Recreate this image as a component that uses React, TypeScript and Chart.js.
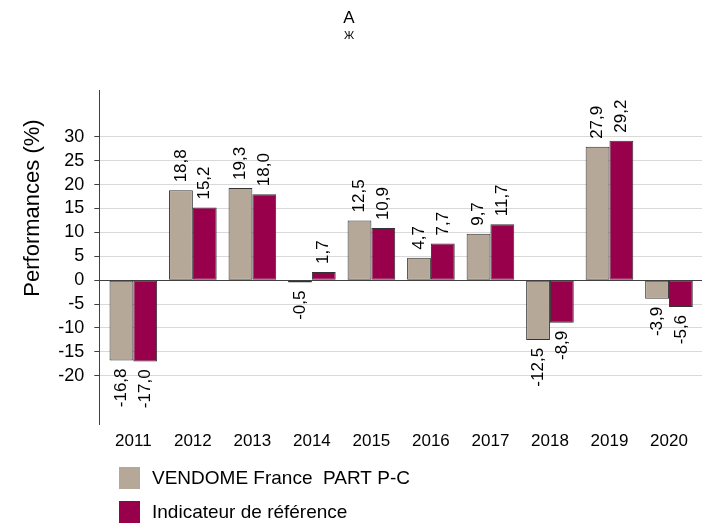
import React, { useEffect, useRef } from "react";
import { Chart, registerables } from "chart.js";

Chart.register(...registerables);

const years = ["2011", "2012", "2013", "2014", "2015", "2016", "2017", "2018", "2019", "2020"];
const fundValues = [-16.8, 18.8, 19.3, -0.5, 12.5, 4.7, 9.7, -12.5, 27.9, -3.9];
const benchValues = [-17.0, 15.2, 18.0, 1.7, 10.9, 7.7, 11.7, -8.9, 29.2, -5.6];
const yTickValues = [-20, -15, -10, -5, 0, 5, 10, 15, 20, 25, 30];
const seriesNames = ["VENDOME France  PART P-C", "Indicateur de référence"];
const seriesColors = ["#b5a899", "#99004c"];
const chartTitle = "A";
const yAxisTitle = "Performances (%)";

const FONT = "'Liberation Sans', Arial, sans-serif";

const decorPlugin = {
  id: "decor",
  afterDatasetsDraw(chart: any) {
    const ctx = chart.ctx;
    ctx.save();
    ctx.fillStyle = "#000";
    // data labels
    ctx.font = `17px ${FONT}`;
    chart.data.datasets.forEach((ds: any, di: number) => {
      const meta = chart.getDatasetMeta(di);
      meta.data.forEach((bar: any, i: number) => {
        const v = ds.data[i].y;
        const txt = v.toFixed(1).replace(".", ",");
        ctx.save();
        ctx.translate(bar.x, v >= 0 ? bar.y - 8 : bar.y + 8);
        ctx.rotate(-Math.PI / 2);
        ctx.textBaseline = "middle";
        ctx.textAlign = v >= 0 ? "left" : "right";
        ctx.fillText(txt, 0, 0);
        ctx.restore();
      });
    });
    // title
    ctx.textAlign = "center";
    ctx.textBaseline = "middle";
    ctx.font = `17px ${FONT}`;
    ctx.fillText(chartTitle, 349, 18);
    ctx.font = `11px ${FONT}`;
    ctx.fillText("Ж", 349, 36);
    // y axis title
    ctx.save();
    ctx.translate(33, 208);
    ctx.rotate(-Math.PI / 2);
    ctx.font = `22px ${FONT}`;
    ctx.textAlign = "center";
    ctx.textBaseline = "middle";
    ctx.fillText(yAxisTitle, 0, 0);
    ctx.restore();
    // legend
    ctx.font = `19px ${FONT}`;
    ctx.textAlign = "left";
    ctx.textBaseline = "middle";
    seriesNames.forEach((name, i) => {
      const y = 467 + i * 34;
      ctx.fillStyle = seriesColors[i];
      ctx.fillRect(119, y, 21, 22);
      ctx.fillStyle = "#000";
      ctx.fillText(name, 152, y + 12);
    });
    ctx.restore();
  },
};

export default function App() {
  const ref = useRef<HTMLCanvasElement | null>(null);
  useEffect(() => {
    if (!ref.current) return;
    const mkDs = (name: string, vals: number[], color: string) => ({
      label: name,
      data: vals.map((v, i) => ({ x: i, y: v })),
      backgroundColor: color,
      borderColor: "#333333",
      borderWidth: 1,
      borderSkipped: false,
      categoryPercentage: 0.8,
      barPercentage: 1,
    });
    const chart = new Chart(ref.current, {
      type: "bar",
      data: {
        datasets: [
          mkDs(seriesNames[0], fundValues, seriesColors[0]),
          mkDs(seriesNames[1], benchValues, seriesColors[1]),
        ],
      },
      options: {
        animation: false,
        responsive: false,
        layout: { padding: { top: 90, right: 0, left: 0, bottom: 0 } },
        plugins: { legend: { display: false }, tooltip: { enabled: false } },
        scales: {
          x: {
            type: "linear",
            offset: false,
            min: -0.572,
            max: 9.555,
            grid: { display: false, drawTicks: false, offset: false },
            border: { display: false },
            afterBuildTicks: (s: any) => {
              s.ticks = years.map((_, i) => ({ value: i }));
            },
            afterFit: (s: any) => {
              s.height = 524 - 424;
            },
            ticks: {
              autoSkip: false,
              maxRotation: 0,
              padding: 7,
              color: "#000",
              font: { family: FONT, size: 17 },
              callback: (v: any) => years[v] ?? "",
            },
          },
          y: {
            min: -30.1,
            max: 39.8,
            afterBuildTicks: (s: any) => {
              s.ticks = yTickValues.map((v) => ({ value: v }));
            },
            afterFit: (s: any) => {
              s.width = 99.3;
            },
            grid: {
              color: (c: any) => (c.tick && c.tick.value === 0 ? "#404040" : "#d9d9d9"),
              tickColor: "#404040",
              tickLength: 5,
              lineWidth: 1,
            },
            border: { display: true, color: "#404040", width: 1 },
            ticks: {
              padding: 10,
              color: "#000",
              font: { family: FONT, size: 18 },
              callback: (v: any) => String(v),
            },
          },
        },
      },
      plugins: [decorPlugin],
    });
    return () => chart.destroy();
  }, []);
  return (
    <div style={{ position: "absolute", left: 0, top: 0, width: 702, height: 524, background: "#fff" }}>
      <canvas ref={ref} width={702} height={524} style={{ width: 702, height: 524 }} />
    </div>
  );
}
